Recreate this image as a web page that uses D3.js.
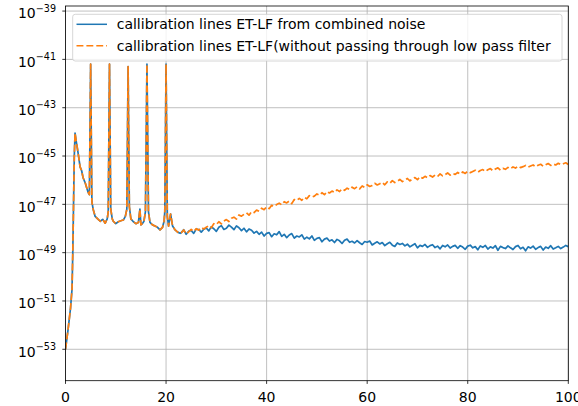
<!DOCTYPE html>
<html>
<head>
<meta charset="utf-8">
<script src="https://cdn.jsdelivr.net/npm/d3@7"></script>
<style>
  body { margin: 0; background: #fff; }
  svg { display: block; font-family: "DejaVu Sans", sans-serif; }
</style>
</head>
<body>
<svg id="chart" width="578" height="406"></svg>
<script>
// Frequencies (Hz) and log10 PSD for the band where both traces coincide (0 – 22.8 Hz)
const freqLow = [
  0, 0.5, 1.0, 1.3, 1.45, 1.6, 1.75, 1.9, 2.1, 2.3, 2.6, 2.9, 3.2, 3.5, 3.9, 4.2, 4.5, 4.75,
  5.0, 5.25, 5.5, 5.9, 6.4, 6.9, 7.4, 7.9, 8.3, 8.5,
  8.75, 9.0, 9.3, 9.5, 10.0, 10.5, 11.0, 11.5, 11.9, 12.2,
  12.45, 12.7, 13.0, 13.5, 14.0, 14.5, 14.8, 15.0, 15.3, 15.6, 15.9,
  16.2, 16.5, 16.8, 17.3, 17.8, 18.3, 18.8, 19.3, 19.6, 19.75,
  20.0, 20.25, 20.5, 20.9, 21.3, 21.8, 22.3, 22.8
];
const logPsdLow = [
  -53.0, -52.2, -51.3, -50.5, -49.0, -47.0, -45.0, -44.05, -44.35, -44.6, -45.0, -45.45, -45.6, -45.9, -46.1, -46.3, -46.5, -46.6,
  -41.2, -46.9, -47.2, -47.5, -47.6, -47.7, -47.62, -47.78, -47.6, -47.3,
  -41.2, -47.2, -47.6, -47.7, -47.8, -47.72, -47.68, -47.65, -47.5, -47.2,
  -41.3, -47.1, -47.6, -47.72, -47.8, -47.75, -47.2, -47.85, -47.8, -47.7, -47.3,
  -41.2, -47.3, -47.75, -47.85, -47.9, -47.95, -48.06, -47.95, -47.7, -47.3,
  -41.2, -47.5, -47.9, -47.4, -47.9, -48.06, -48.15, -48.2
];

// 23 – 100 Hz, sampled every 0.5 Hz
const freqHigh = d3.range(23, 100.001, 0.5);

// Combined-noise calibration lines, log10 PSD
const logPsdCombined = [
  -48.18,-48.05,-48.24,-48.11,-48.08,-48.20,-48.02,-48.04,-48.15,-48.03,
  -47.98,-48.10,-47.93,-48.01,-48.12,-47.95,-47.88,-48.04,-47.99,-47.86,
  -47.94,-48.05,-47.89,-47.97,-48.09,-47.99,-48.14,-48.02,-48.07,-48.19,
  -48.12,-48.24,-48.15,-48.31,-48.20,-48.17,-48.34,-48.22,-48.26,-48.13,
  -48.33,-48.24,-48.38,-48.27,-48.21,-48.40,-48.31,-48.35,-48.26,-48.44,
  -48.36,-48.43,-48.31,-48.49,-48.41,-48.38,-48.55,-48.44,-48.40,-48.52,
  -48.47,-48.58,-48.45,-48.51,-48.62,-48.49,-48.44,-48.57,-48.53,-48.60,
  -48.50,-48.59,-48.66,-48.54,-48.57,-48.52,-48.68,-48.61,-48.55,-48.64,
  -48.58,-48.71,-48.63,-48.57,-48.69,-48.74,-48.60,-48.66,-48.62,-48.72,
  -48.65,-48.76,-48.69,-48.63,-48.80,-48.70,-48.74,-48.66,-48.78,-48.71,
  -48.67,-48.79,-48.73,-48.84,-48.70,-48.76,-48.68,-48.81,-48.74,-48.70,
  -48.82,-48.71,-48.77,-48.86,-48.73,-48.69,-48.80,-48.75,-48.88,-48.72,
  -48.78,-48.70,-48.85,-48.76,-48.81,-48.71,-48.90,-48.74,-48.79,-48.83,
  -48.72,-48.80,-48.87,-48.75,-48.70,-48.84,-48.78,-48.92,-48.76,-48.81,
  -48.73,-48.86,-48.79,-48.74,-48.89,-48.77,-48.82,-48.71,-48.85,-48.80,
  -48.74,-48.83,-48.77,-48.70,-48.75
];

// Unfiltered calibration lines, log10 PSD
const logPsdUnfiltered = [
  -48.18,-48.06,-48.22,-48.14,-48.04,-48.12,-48.01,-48.07,-47.96,-48.02,
  -47.95,-47.88,-47.97,-47.80,-47.84,-47.72,-47.81,-47.69,-47.63,-47.71,
  -47.58,-47.53,-47.61,-47.44,-47.49,-47.41,-47.35,-47.45,-47.30,-47.34,
  -47.24,-47.29,-47.16,-47.22,-47.10,-47.18,-47.04,-47.09,-47.01,-46.95,
  -47.02,-46.89,-46.94,-46.86,-46.97,-46.80,-46.84,-46.75,-46.83,-46.71,
  -46.77,-46.64,-46.70,-46.66,-46.57,-46.62,-46.52,-46.60,-46.47,-46.53,
  -46.45,-46.51,-46.40,-46.47,-46.36,-46.42,-46.33,-46.39,-46.29,-46.35,
  -46.27,-46.36,-46.24,-46.30,-46.19,-46.26,-46.22,-46.13,-46.20,-46.15,
  -46.09,-46.19,-46.07,-46.13,-46.02,-46.10,-46.05,-45.97,-46.06,-45.99,
  -45.93,-46.03,-45.95,-45.89,-45.98,-45.86,-45.92,-45.84,-45.90,-45.81,
  -45.87,-45.79,-45.85,-45.74,-45.82,-45.77,-45.70,-45.79,-45.72,-45.76,
  -45.68,-45.75,-45.66,-45.72,-45.63,-45.69,-45.64,-45.59,-45.67,-45.60,
  -45.56,-45.64,-45.57,-45.52,-45.61,-45.54,-45.49,-45.58,-45.51,-45.55,
  -45.47,-45.53,-45.45,-45.50,-45.42,-45.48,-45.44,-45.39,-45.46,-45.41,
  -45.37,-45.44,-45.38,-45.34,-45.42,-45.36,-45.31,-45.39,-45.33,-45.37,
  -45.30,-45.36,-45.32,-45.28,-45.35
];

const xTicks = [0, 20, 40, 60, 80, 100];
const yTickExponents = [-53, -51, -49, -47, -45, -43, -41, -39];
const seriesLabels = [
  "callibration lines ET-LF from combined noise",
  "callibration lines ET-LF(without passing through low pass filter"
];
const seriesColors = ["#1f77b4", "#ff7f0e"];

const svg = d3.select("#chart");
const plot = { left: 65.5, right: 568.3, top: 6, bottom: 380.7 };
const fontSize = 14;

const x = d3.scaleLinear().domain([0, 100]).range([plot.left, plot.right]);
const y = d3.scaleLog().domain([10 ** -54.3, 10 ** -38.79]).range([plot.bottom, plot.top]);

const makeSeries = high =>
  freqLow.map((f, i) => ({ f, p: 10 ** logPsdLow[i] }))
    .concat(freqHigh.map((f, i) => ({ f, p: 10 ** high[i] })));
const series = [makeSeries(logPsdCombined), makeSeries(logPsdUnfiltered)];

svg.append("defs").append("clipPath").attr("id", "plot-clip")
  .append("rect")
  .attr("x", plot.left).attr("y", plot.top)
  .attr("width", plot.right - plot.left).attr("height", plot.bottom - plot.top);

// Grid
const grid = svg.append("g").attr("stroke", "#b0b0b0").attr("stroke-width", 0.8);
grid.selectAll("line.gx").data(xTicks).join("line")
  .attr("x1", d => x(d)).attr("x2", d => x(d))
  .attr("y1", plot.top).attr("y2", plot.bottom);
grid.selectAll("line.gy").data(yTickExponents).join("line")
  .attr("x1", plot.left).attr("x2", plot.right)
  .attr("y1", d => y(10 ** d)).attr("y2", d => y(10 ** d));

// Traces
const line = d3.line().x(d => x(d.f)).y(d => y(d.p));
const traces = svg.append("g").attr("clip-path", "url(#plot-clip)");
traces.append("path").datum(series[0])
  .attr("fill", "none").attr("stroke", seriesColors[0])
  .attr("stroke-width", 1.7).attr("stroke-linejoin", "round")
  .attr("d", line);
traces.append("path").datum(series[1])
  .attr("fill", "none").attr("stroke", seriesColors[1])
  .attr("stroke-width", 1.7).attr("stroke-linejoin", "round")
  .attr("stroke-dasharray", "6.9,3")
  .attr("d", line);

// Spines
svg.append("rect")
  .attr("x", plot.left).attr("y", plot.top)
  .attr("width", plot.right - plot.left).attr("height", plot.bottom - plot.top)
  .attr("fill", "none").attr("stroke", "#000").attr("stroke-width", 0.8);

// X axis ticks and labels
const xg = svg.append("g");
xg.selectAll("line").data(xTicks).join("line")
  .attr("x1", d => x(d)).attr("x2", d => x(d))
  .attr("y1", plot.bottom).attr("y2", plot.bottom + 3.2)
  .attr("stroke", "#000").attr("stroke-width", 0.8);
xg.selectAll("text").data(xTicks).join("text")
  .attr("x", d => x(d)).attr("y", 401.7)
  .attr("text-anchor", "middle").attr("font-size", fontSize).attr("fill", "#000")
  .text(d => d);

// Y axis ticks and labels (10^n)
const yg = svg.append("g");
yg.selectAll("line").data(yTickExponents).join("line")
  .attr("x1", plot.left - 3.2).attr("x2", plot.left)
  .attr("y1", d => y(10 ** d)).attr("y2", d => y(10 ** d))
  .attr("stroke", "#000").attr("stroke-width", 0.8);
const yLabels = yg.selectAll("text").data(yTickExponents).join("text")
  .attr("x", 56).attr("y", d => y(10 ** d) + 7.3)
  .attr("text-anchor", "end").attr("font-size", fontSize).attr("fill", "#000");
yLabels.append("tspan").text("10");
yLabels.append("tspan").attr("dy", -6.6).attr("font-size", 9.6)
  .text(d => "\u2212" + Math.abs(d));

// Legend
const lg = svg.append("g");
lg.append("rect")
  .attr("x", 72.7).attr("y", 14.3).attr("width", 489.3).attr("height", 46.7)
  .attr("rx", 2.5).attr("fill", "#fff").attr("fill-opacity", 0.8)
  .attr("stroke", "#cccccc").attr("stroke-width", 0.8);
const legendRows = [24.3, 45.7];
seriesLabels.forEach((label, i) => {
  lg.append("line")
    .attr("x1", 76.5).attr("x2", 107).attr("y1", legendRows[i]).attr("y2", legendRows[i])
    .attr("stroke", seriesColors[i]).attr("stroke-width", 1.5)
    .attr("stroke-dasharray", i === 1 ? "6.9,3" : null);
  lg.append("text")
    .attr("x", 116.7).attr("y", legendRows[i] + 5)
    .attr("font-size", fontSize).attr("fill", "#000")
    .text(label);
});
</script>
</body>
</html>
